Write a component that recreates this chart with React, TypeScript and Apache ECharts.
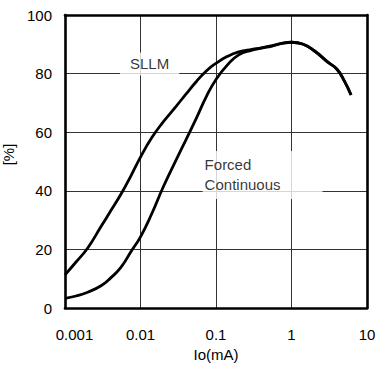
import React, { useEffect, useRef } from "react";
import * as echarts from "echarts";

const sllmX = [0.001, 0.0014, 0.002, 0.003, 0.004, 0.0055, 0.0075, 0.01, 0.014, 0.02, 0.03, 0.04, 0.055, 0.075, 0.1, 0.14, 0.2, 0.3, 0.4, 0.55, 0.75, 1, 1.4, 2, 3, 4, 5, 6.15];
const sllmY = [11.3, 15.7, 20.5, 27.8, 33, 38.8, 45.2, 51.5, 58, 63.5, 69, 73, 77.3, 81, 83.5, 85.8, 87.4, 88.3, 88.8, 89.5, 90.3, 90.7, 90.1, 87.8, 84, 81.5, 77.5, 72.7];

const forcedX = [0.001, 0.0014, 0.002, 0.003, 0.004, 0.0055, 0.0075, 0.01, 0.014, 0.02, 0.03, 0.04, 0.055, 0.075, 0.1, 0.14, 0.2, 0.3, 0.4, 0.55, 0.75, 1, 1.4, 2, 3, 4, 5, 6.15];
const forcedY = [3.3, 4.1, 5.4, 7.6, 10.2, 13.9, 19.3, 24.3, 32, 41.3, 50.8, 57.4, 64.8, 72.3, 78, 82.8, 86.4, 88, 88.7, 89.4, 90.3, 90.7, 90.1, 87.8, 84, 81.5, 77.5, 72.7];

const xTicks = [0.001, 0.01, 0.1, 1, 10];
const yTicks = [0, 20, 40, 60, 80, 100];

const labelSllm = { text: "SLLM", x: 0.0132, y: 83.3 };
const labelForced = { text: "Forced\nContinuous", x: 0.0665, y: 45.4 };

const FONT = "'Liberation Sans', Arial, Helvetica, sans-serif";

export default function App() {
  const ref = useRef<HTMLDivElement>(null);
  useEffect(() => {
    if (!ref.current) return;
    const chart = echarts.init(ref.current, null, { renderer: "svg" });
    const zip = (xs: number[], ys: number[]) => xs.map((x, i) => [x, ys[i]]);
    const border = { show: true, onZero: false, lineStyle: { color: "#000", width: 2.6 } };
    chart.setOption({
      animation: false,
      textStyle: { fontFamily: FONT },
      grid: {
        left: 65,
        top: 15,
        right: 10,
        bottom: 57,
        outerBoundsMode: "none",
        containLabel: false,
      },
      xAxis: [
        {
          type: "log",
          logBase: 10,
          min: 0.001,
          max: 10,
          position: "bottom",
          name: "Io(mA)",
          nameLocation: "middle",
          nameGap: 32,
          nameTextStyle: { fontSize: 15, color: "#000", fontFamily: FONT },
          axisLine: border,
          axisTick: { show: false },
          axisLabel: {
            fontSize: 15,
            color: "#000",
            margin: 19,
            align: "center",
            fontFamily: FONT,
            rich: { first: { fontSize: 15, color: "#000", fontFamily: FONT, padding: [0, 0, 0, 19] } },
            formatter: (v: number) => {
              const i = xTicks.findIndex((t) => Math.abs(Math.log10(t) - Math.log10(v)) < 1e-6);
              if (i < 0) return "";
              return i === 0 ? `{first|${xTicks[i]}}` : String(xTicks[i]);
            },
          },
          splitLine: { show: true, lineStyle: { color: "#333", width: 1, type: "solid", opacity: 1 } },
          minorTick: { show: false },
        },
        {
          type: "log",
          logBase: 10,
          min: 0.001,
          max: 10,
          position: "top",
          axisLine: border,
          axisTick: { show: false },
          axisLabel: { show: false },
          splitLine: { show: false },
        },
      ],
      yAxis: [
        {
          type: "value",
          min: 0,
          max: 100,
          interval: 20,
          position: "left",
          name: "[%]",
          nameLocation: "middle",
          nameGap: 49,
          nameRotate: 90,
          nameTextStyle: { fontSize: 15, color: "#000", fontFamily: FONT, padding: [0, 0, 0, 14] },
          axisLine: border,
          axisTick: { show: false },
          axisLabel: {
            fontSize: 15,
            color: "#000",
            margin: 13,
            fontFamily: FONT,
            formatter: (v: number) => (yTicks.includes(v) ? String(v) : ""),
          },
          splitLine: { show: true, lineStyle: { color: "#333", width: 1, type: "solid", opacity: 1 } },
        },
        {
          type: "value",
          min: 0,
          max: 100,
          interval: 20,
          position: "right",
          axisLine: border,
          axisTick: { show: false },
          axisLabel: { show: false },
          splitLine: { show: false },
        },
      ],
      series: [
        {
          type: "scatter",
          symbolSize: 0,
          z: 3,
          silent: true,
          data: [[labelSllm.x, labelSllm.y]],
          label: {
            show: true,
            position: "inside",
            formatter: labelSllm.text,
            fontSize: 15,
            color: "#000",
            fontFamily: FONT,
            backgroundColor: "#fff",
            padding: [4, 10, 4, 10],
          },
        },
        {
          type: "scatter",
          symbolSize: 0,
          z: 3,
          silent: true,
          data: [[labelForced.x, labelForced.y]],
          label: {
            show: true,
            position: "right",
            distance: 0,
            formatter: labelForced.text,
            fontSize: 15,
            lineHeight: 20,
            align: "left",
            color: "#000",
            fontFamily: FONT,
            backgroundColor: "#fff",
            padding: [0, 42, 8, 2],
          },
        },
        {
          name: "SLLM",
          type: "line",
          data: zip(sllmX, sllmY),
          smooth: 0.5,
          showSymbol: false,
          z: 4,
          lineStyle: { color: "#000", width: 2.8 },
        },
        {
          name: "Forced Continuous",
          type: "line",
          data: zip(forcedX, forcedY),
          smooth: 0.5,
          showSymbol: false,
          z: 4,
          lineStyle: { color: "#000", width: 2.8 },
        },
      ],
    });
    return () => chart.dispose();
  }, []);
  return <div ref={ref} style={{ width: 377, height: 365, position: "absolute", left: 0, top: 0, background: "#fff" }} />;
}
